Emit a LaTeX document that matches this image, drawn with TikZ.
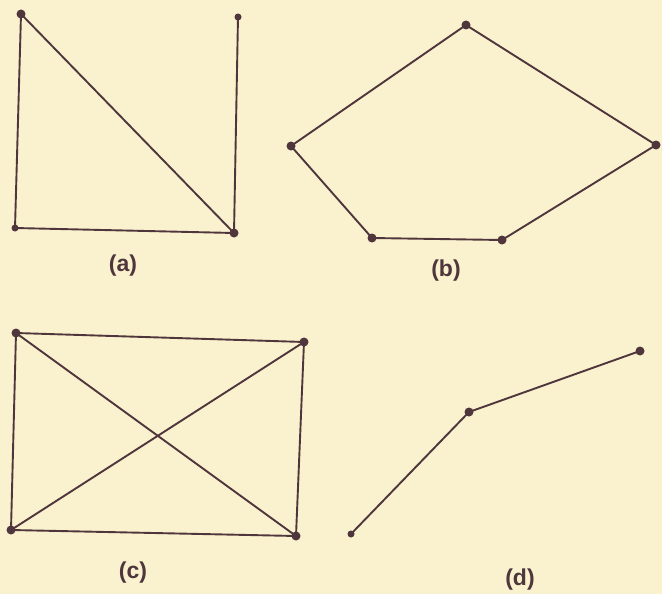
\documentclass[tikz,border=0pt]{standalone}
\usepackage{fontspec}
\setmainfont{Liberation Sans}
\definecolor{paper}{RGB}{250,242,206}
\definecolor{ink}{RGB}{78,54,60}
\begin{document}
\begin{tikzpicture}[x=1pt,y=-1pt,
  dot/.style={circle,fill=ink,inner sep=0pt,minimum size=7pt},
  bigdot/.style={circle,fill=ink,inner sep=0pt,minimum size=9pt},
  edge/.style={draw=ink,line width=1.9pt},
  lab/.style={text=ink,font=\fontsize{23}{27}\selectfont\bfseries}]
\fill[paper] (0,0) rectangle (662,594);
\useasboundingbox (0,0) rectangle (662,594);
% (a)
\node[bigdot] (a1) at (21,14) {};
\node[dot] (a2) at (238,17) {};
\node[dot] (a3) at (15,228) {};
\node[bigdot] (a4) at (234,233) {};
\draw[edge] (a1.center) -- (a3.center) -- (a4.center) -- (a1.center);
\draw[edge] (a4.center) -- (a2.center);
\node[lab] (la) at (123,266) {(a)};
% (b)
\node[bigdot] (b1) at (466,25) {};
\node[bigdot] (b2) at (656,145) {};
\node[bigdot] (b3) at (502,240) {};
\node[bigdot] (b4) at (372,238) {};
\node[bigdot] (b5) at (291,146) {};
\draw[edge] (b1.center) -- (b2.center) -- (b3.center) -- (b4.center) -- (b5.center) -- cycle;
\node[lab] (lb) at (446,271) {(b)};
% (c)
\node[bigdot] (c1) at (16,333) {};
\node[bigdot] (c2) at (304,342) {};
\node[bigdot] (c3) at (296,536) {};
\node[bigdot] (c4) at (11,530) {};
\draw[edge] (c1.center) -- (c2.center) -- (c3.center) -- (c4.center) -- cycle;
\draw[edge] (c1.center) -- (c3.center);
\draw[edge] (c2.center) -- (c4.center);
\node[lab] (lc) at (133,573) {(c)};
% (d)
\node[dot] (d1) at (351,534) {};
\node[bigdot] (d2) at (469,412) {};
\node[bigdot] (d3) at (640,351) {};
\draw[edge] (d1.center) -- (d2.center) -- (d3.center);
\node[lab] (ld) at (520,580) {(d)};
\end{tikzpicture}
\end{document}
